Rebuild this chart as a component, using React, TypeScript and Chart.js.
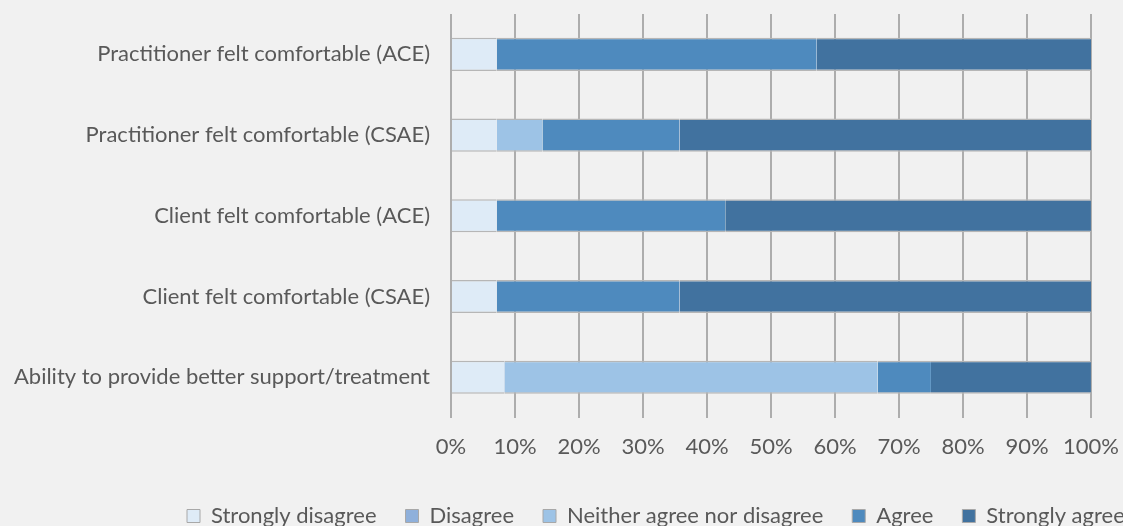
import React, { useEffect, useRef } from "react";
import { Chart, registerables } from "chart.js";

Chart.register(...registerables);

// Survey items (top to bottom)
const categories = [
  "Practitioner felt comfortable (ACE)",
  "Practitioner felt comfortable (CSAE)",
  "Client felt comfortable (ACE)",
  "Client felt comfortable (CSAE)",
  "Ability to provide better support/treatment",
];

// Share of responses per item, in percent
const stronglyDisagree = [7.14, 7.14, 7.14, 7.14, 8.33];
const disagree = [0, 0, 0, 0, 0];
const neither = [0, 7.14, 0, 0, 58.33];
const agree = [50, 21.43, 35.71, 28.57, 8.33];
const stronglyAgree = [42.86, 64.29, 57.14, 64.29, 25];

const seriesLabels = [
  "Strongly disagree",
  "Disagree",
  "Neither agree nor disagree",
  "Agree",
  "Strongly agree",
];

const xTicks = [0, 10, 20, 30, 40, 50, 60, 70, 80, 90, 100];

const FONT = "Lato, 'Open Sans', sans-serif";
const TEXT = "#595959";

// Moves the legend row so it starts at a fixed x position
const legendOffset = {
  id: "legendOffset",
  afterLayout(chart: any) {
    const lg = chart.legend;
    if (!lg) return;
    const dx = 158 - lg.left;
    lg.left += dx;
    lg.right += dx;
  },
};

export default function App() {
  const canvasRef = useRef<HTMLCanvasElement | null>(null);

  useEffect(() => {
    const canvas = canvasRef.current;
    if (!canvas) return;

    const fills = ["#DEEBF7", "#8FB0DB", "#9DC3E6", "#4E8ABE", "#41729F"];
    const values = [stronglyDisagree, disagree, neither, agree, stronglyAgree];

    const chart = new Chart(canvas, {
      type: "bar",
      data: {
        labels: categories,
        datasets: values.map((v, i) => ({
          label: seriesLabels[i],
          data: v,
          backgroundColor: fills[i],
          borderColor: "#b6b6b6",
          borderWidth: { top: 1.5, bottom: 1.5, left: 0, right: 0 },
          borderSkipped: false,
          barPercentage: 0.82,
          categoryPercentage: 0.5,
        })),
      },
      plugins: [legendOffset],
      options: {
        indexAxis: "y",
        animation: false,
        responsive: true,
        maintainAspectRatio: false,
        layout: { padding: { top: 14, right: 32, bottom: -11, left: 0 } },
        plugins: {
          tooltip: { enabled: false },
          legend: {
            position: "bottom",
            align: "start",
            labels: {
              color: TEXT,
              font: { family: FONT, size: 22 },
              boxWidth: 13,
              boxHeight: 13,
              padding: 29,
              generateLabels: (c: any) => {
                const items = Chart.defaults.plugins.legend.labels.generateLabels(c);
                return items.map((it: any) => ({ ...it, lineWidth: 1, strokeStyle: "#a8a8a8" }));
              },
            },
          },
        },
        scales: {
          x: {
            stacked: true,
            min: 0,
            max: 100,
            afterBuildTicks: (scale: any) => {
              scale.ticks = xTicks.map((v) => ({ value: v }));
            },
            afterFit: (scale: any) => {
              scale.paddingLeft = 0;
              scale.paddingRight = 0;
            },
            ticks: {
              color: TEXT,
              font: { family: FONT, size: 22 },
              padding: 16,
              callback: (v: any) => `${v}%`,
            },
            grid: { color: "#adadad", lineWidth: 2, drawTicks: false },
            border: { display: false },
          },
          y: {
            stacked: true,
            afterFit: (scale: any) => {
              scale.width = 451;
              scale.paddingTop = 0;
              scale.paddingBottom = 0;
            },
            ticks: {
              color: TEXT,
              font: { family: FONT, size: 22 },
              padding: 21,
            },
            grid: { display: false, drawTicks: false },
            border: { display: false },
          },
        },
      },
    });

    return () => chart.destroy();
  }, []);

  return (
    <div
      style={{
        position: "fixed",
        left: 0,
        top: 0,
        width: 1123,
        height: 526,
        background: "#f1f1f1",
      }}
    >
      <canvas ref={canvasRef} />
    </div>
  );
}
